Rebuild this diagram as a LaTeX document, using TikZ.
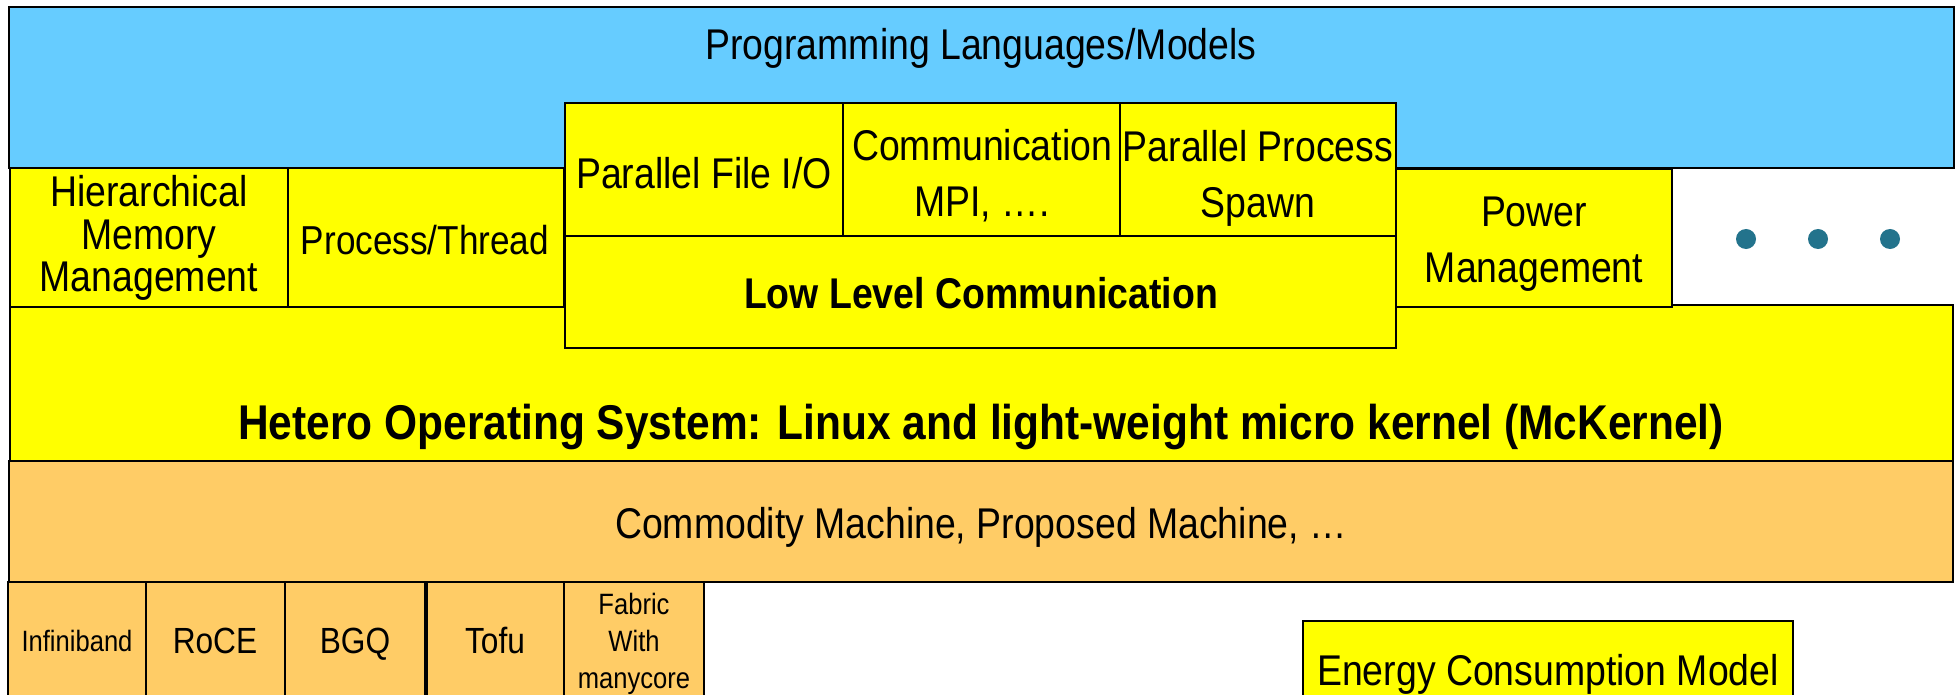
\documentclass[tikz,border=0pt]{standalone}
\usepackage{fontspec}
\setmainfont{Liberation Sans}[FakeStretch=0.87]
\definecolor{langblue}{RGB}{102,204,255}
\definecolor{osyellow}{RGB}{255,255,0}
\definecolor{hworange}{RGB}{255,204,102}
\definecolor{dotteal}{RGB}{35,115,140}

\begin{document}
\begin{tikzpicture}[x=0.5pt,y=-0.5pt,
    blk/.style={draw=black,line width=1.2pt},
    txt/.style={inner sep=0pt,align=center,font=\fontsize{21.5}{28}\selectfont},
    small/.style={inner sep=0pt,align=center,font=\fontsize{18.2}{22}\selectfont},
    tiny/.style={inner sep=0pt,align=center,font=\fontsize{14.7}{18.5}\selectfont}]
  \useasboundingbox (0,0) rectangle (1957,695);
  \fill [white] (0,0) rectangle (1957,695);
  \clip (0,0) rectangle (1957,695);
  % top layer
  \draw [blk,fill=langblue] (9,7) rectangle (1954,168);
  \node [txt,anchor=base] (lang) at (981,60) {Programming Languages/Models};
  % os and machine layers
  \draw [blk,fill=osyellow] (10,305) rectangle (1953,461);
  \node [txt,anchor=base,font=\fontsize{24.4}{28}\selectfont\bfseries] (os) at (981,439)
    {Hetero Operating System: Linux and light-weight micro kernel (McKernel)};
  \draw [blk,fill=hworange] (9,461) rectangle (1953,582);
  \node [txt,anchor=base] (machine) at (981,538) {Commodity Machine, Proposed Machine, \dots};
  % left row
  \draw [blk,fill=osyellow] (10,168) rectangle (288,307);
  \node [txt,font=\fontsize{21.5}{21.25}\selectfont] (hmm) at (149,238) {Hierarchical\\Memory\\Management};
  \draw [blk,fill=osyellow] (288,168) rectangle (564,307);
  \node [txt,anchor=base,font=\fontsize{20.2}{24}\selectfont] (thread) at (425,255) {Process/Thread};
  % middle block
  \draw [blk,fill=osyellow] (565,103) rectangle (843,236);
  \node [txt,anchor=base] (fileio) at (704,189) {Parallel File I/O};
  \draw [blk,fill=osyellow] (843,103) rectangle (1120,236);
  \node [txt] (comm) at (982,176) {Communication\\MPI, \dots.};
  \draw [blk,fill=osyellow] (1120,103) rectangle (1396,236);
  \node [txt] (spawn) at (1258,178) {Parallel Process\\Spawn};
  \draw [blk,fill=osyellow] (565,236) rectangle (1396,348);
  \node [txt,anchor=base,font=\fontsize{21.5}{28}\selectfont\bfseries] (lowcomm) at (981,308) {Low Level Communication};
  % power
  \draw [blk,fill=osyellow] (1396,169) rectangle (1672,307);
  \node [txt] (power) at (1534,244) {Power\\Management};
  \fill [dotteal] (1746,239) circle (5pt);
  \fill [dotteal] (1818,239) circle (5pt);
  \fill [dotteal] (1890,239) circle (5pt);
  % networks
  \draw [blk,fill=hworange] (8,582) rectangle (146,710);
  \node [tiny,anchor=base] (ib) at (77,651) {Infiniband};
  \draw [blk,fill=hworange] (146,582) rectangle (285,710);
  \node [small,anchor=base] (roce) at (215,653) {RoCE};
  \draw [blk,fill=hworange] (285,582) rectangle (425,710);
  \node [small,anchor=base] (bgq) at (355,653) {BGQ};
  \draw [blk,fill=hworange] (427,582) rectangle (564,710);
  \node [small,anchor=base] (tofu) at (495,653) {Tofu};
  \draw [blk,fill=hworange] (564,582) rectangle (704,710);
  \node [tiny] (fabric) at (634,644) {Fabric\\With\\manycore};
  % energy
  \draw [blk,fill=osyellow] (1303,621) rectangle (1793,710);
  \node [txt,anchor=base] (energy) at (1548,685) {Energy Consumption Model};
\end{tikzpicture}
\end{document}
